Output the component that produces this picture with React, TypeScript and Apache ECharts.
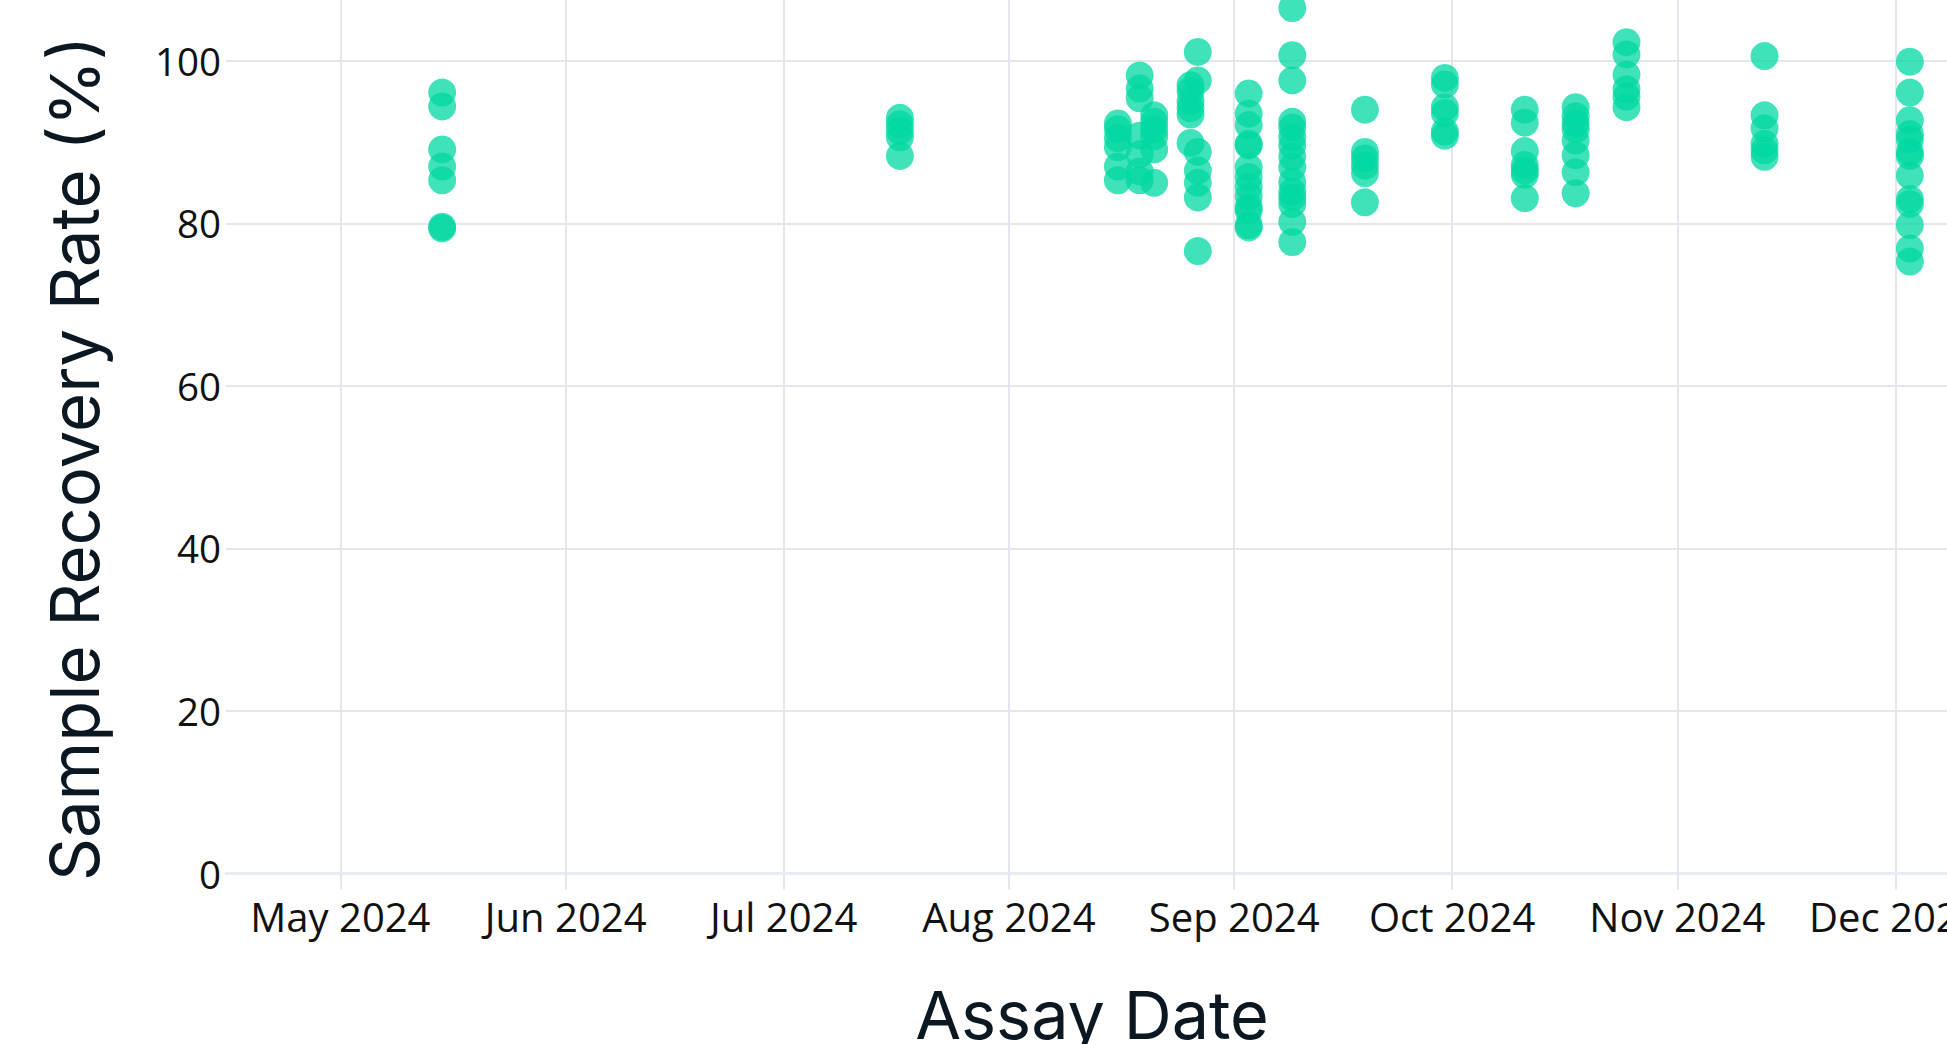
import React, { useEffect, useRef } from "react";
import * as echarts from "echarts";

// Assay dates (one column of points per date)
const assayDates = [
  "2024-05-15", "2024-07-17", "2024-08-16", "2024-08-19", "2024-08-21",
  "2024-08-26", "2024-08-27", "2024-09-03", "2024-09-09", "2024-09-19",
  "2024-09-30", "2024-10-11", "2024-10-18", "2024-10-25", "2024-11-13",
  "2024-12-03",
];

// Recovery rates (%) measured on each assay date
const rateMay15 = [96.1, 94.4, 89.1, 87.0, 85.3, 79.6, 79.4];
const rateJul17 = [93.0, 92.2, 91.4, 90.6, 88.3];
const rateAug16 = [92.3, 91.6, 90.5, 89.4, 87.0, 85.3];
const rateAug19 = [98.2, 96.6, 95.4, 90.8, 88.5, 86.4, 85.3];
const rateAug21 = [93.3, 92.5, 91.6, 90.7, 89.1, 85.0];
const rateAug26 = [97.0, 96.3, 95.0, 94.2, 93.4, 89.9];
const rateAug27 = [101.1, 97.6, 88.8, 86.5, 85.0, 83.2, 76.6];
const rateSep03 = [96.0, 93.5, 92.1, 89.8, 89.6, 86.9, 85.7, 84.5, 83.3, 82.0, 81.6, 79.8, 79.5];
const rateSep09 = [106.5, 100.7, 97.6, 92.5, 91.8, 90.6, 89.6, 88.2, 86.9, 85.1, 83.9, 83.2, 82.4, 80.2, 77.7];
const rateSep19 = [94.0, 88.8, 88.0, 87.1, 86.2, 82.6];
const rateSep30 = [97.9, 97.1, 94.3, 93.6, 91.3, 90.8];
const rateOct11 = [94.0, 92.4, 88.9, 87.2, 86.5, 86.0, 83.1];
const rateOct18 = [94.3, 93.2, 92.3, 91.6, 90.2, 88.4, 86.3, 83.7];
const rateOct25 = [102.3, 100.8, 98.3, 96.5, 95.6, 94.3];
const rateNov13 = [100.6, 93.3, 91.7, 89.8, 89.0, 88.2];
const rateDec03 = [99.9, 96.1, 92.7, 91.0, 90.3, 88.8, 88.3, 85.9, 83.0, 82.4, 79.8, 76.9, 75.3];

const ratesByDate = [
  rateMay15, rateJul17, rateAug16, rateAug19, rateAug21, rateAug26, rateAug27,
  rateSep03, rateSep09, rateSep19, rateSep30, rateOct11, rateOct18, rateOct25,
  rateNov13, rateDec03,
];

// Tick label pieces
const monthNames = ["Jan", "Feb", "Mar", "Apr", "May", "Jun", "Jul", "Aug", "Sep", "Oct", "Nov", "Dec"];
const yTicks = [0, 20, 40, 60, 80, 100];

const DAY = 86400000;

function localTime(s: string): number {
  const [y, m, d] = s.split("-").map(Number);
  return new Date(y, m - 1, d).getTime();
}

export default function App() {
  const ref = useRef<HTMLDivElement>(null);

  useEffect(() => {
    if (!ref.current) return;
    const chart = echarts.init(ref.current, null, { renderer: "svg" });

    const points: [number, number][] = [];
    assayDates.forEach((d, i) => {
      const t = localTime(d);
      ratesByDate[i].forEach((v) => points.push([t, v]));
    });

    const gridColor = "#e3e7ed";
    const xMin = new Date(2024, 3, 15, 6).getTime();
    const xMax = new Date(2024, 11, 9, 15).getTime();

    chart.setOption({
      animation: false,
      backgroundColor: "#ffffff",
      grid: {
        left: 226,
        right: -11,
        top: -36.6,
        bottom: 170.5,
        containLabel: false,
        outerBoundsMode: "none",
      },
      xAxis: {
        type: "time",
        min: xMin,
        max: xMax,
        minInterval: 28 * DAY,
        maxInterval: 31 * DAY,
        splitNumber: 8,
        name: "Assay Date",
        nameLocation: "middle",
        nameGap: 108,
        nameTextStyle: { fontFamily: "Inter", fontSize: 66.5, color: "#0b1721" },
        axisLine: { show: true, lineStyle: { color: "#e6ebf4", width: 3 } },
        axisTick: { show: true, length: 16, lineStyle: { color: gridColor, width: 2 } },
        splitLine: {
          show: true,
          showMinLine: false,
          showMaxLine: false,
          lineStyle: { color: gridColor, width: 2 },
        },
        axisLabel: {
          fontFamily: "Open Sans",
          fontSize: 40,
          color: "#111111",
          margin: 23,
          showMinLabel: false,
          showMaxLabel: false,
          formatter: (val: number) => {
            const d = new Date(val);
            return monthNames[d.getMonth()] + " " + d.getFullYear();
          },
        },
      },
      yAxis: {
        type: "value",
        min: yTicks[0],
        max: 112,
        interval: yTicks[1] - yTicks[0],
        name: "Sample Recovery Rate (%)",
        nameLocation: "middle",
        nameGap: 118,
        nameTextStyle: {
          fontFamily: "Inter",
          fontSize: 67,
          color: "#0b1721",
          padding: [0, 80, 0, 0],
        },
        axisLine: { show: false },
        axisTick: { show: false },
        splitLine: {
          show: true,
          showMaxLine: false,
          lineStyle: { color: gridColor, width: 2 },
        },
        axisLabel: {
          fontFamily: "Open Sans",
          fontSize: 38.5,
          color: "#111111",
          margin: 5,
          showMaxLabel: false,
        },
      },
      series: [
        {
          type: "scatter",
          data: points,
          symbolSize: 28,
          clip: false,
          itemStyle: { color: "#00d8a2", opacity: 0.75 },
        },
      ],
    });

    return () => chart.dispose();
  }, []);

  return (
    <div
      ref={ref}
      style={{ position: "absolute", left: 0, top: 0, width: 1947, height: 1044, background: "#fff" }}
    />
  );
}
